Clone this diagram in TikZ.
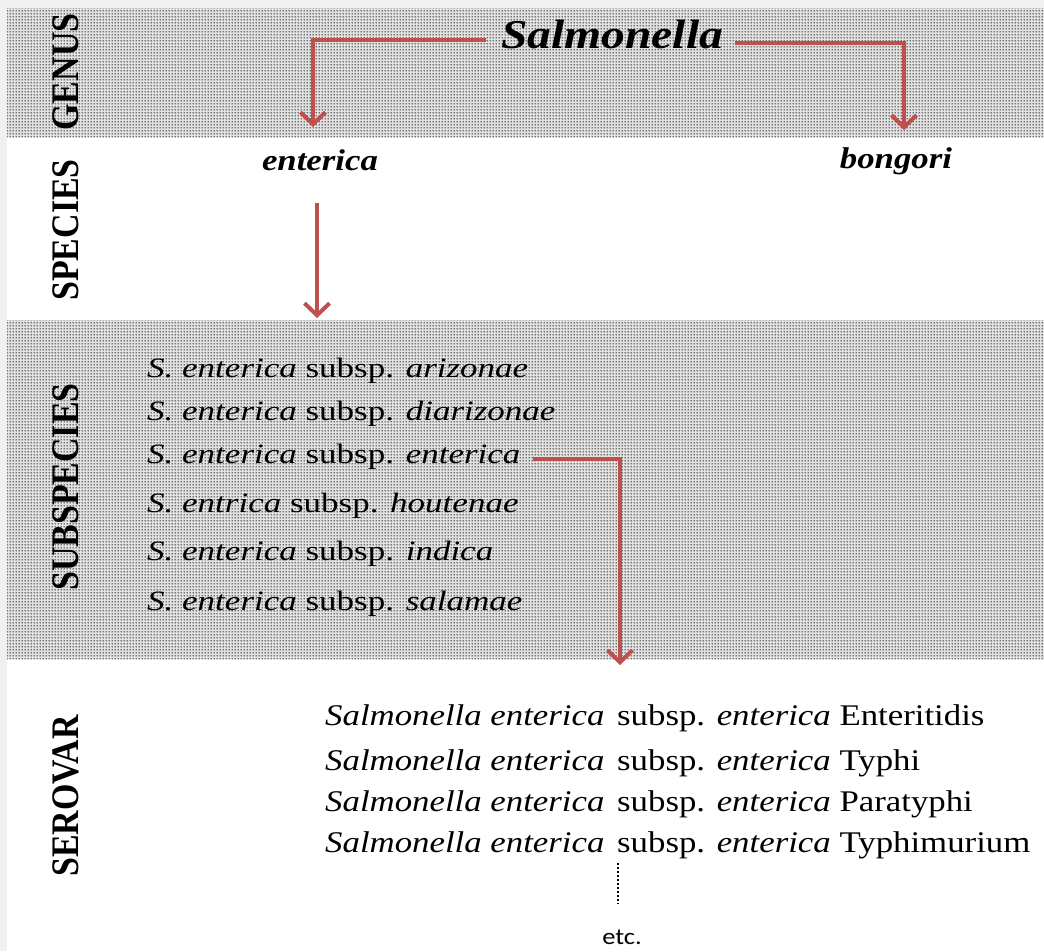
\documentclass[tikz,border=0pt]{standalone}
\usepackage{fontspec}
\setmainfont{Liberation Serif}
\newfontfamily\fmain{Liberation Serif}[FakeStretch=1.16]
\newfontfamily\fsub{Liberation Serif}[FakeStretch=1.25]
\newfontfamily\flab{Liberation Serif}[FakeStretch=0.87]
\newfontfamily\fetc{Carlito}[FakeStretch=1.15]
\usetikzlibrary{arrows.meta,patterns.meta}
\definecolor{arrred}{HTML}{C0504D}
\definecolor{edgegray}{HTML}{F0F0F0}
\definecolor{bandbase}{HTML}{E2E2E2}
\tikzdeclarepattern{name=bandots, type=uncolored,
  bounding box={(0pt,0pt) and (3pt,3pt)}, tile size={(3pt,3pt)},
  code={\pgfpathcircle{\pgfpoint{1.5pt}{1.5pt}}{0.9pt}\pgfusepath{fill}}}
\tikzset{
  bandfill/.style={fill=bandbase},
  band/.style={pattern=bandots, pattern color=black},
  lab/.style={rotate=90, inner sep=0, font=\flab\bfseries\fontsize{39}{44}\selectfont},
  spec/.style={inner sep=0, anchor=base, font=\fmain\bfseries\itshape\fontsize{30}{36}\selectfont},
  subrow/.style={inner sep=0, anchor=base west, font=\fsub\fontsize{28}{34}\selectfont},
  serrow/.style={inner sep=0, anchor=base west, font=\fmain\fontsize{30}{36}\selectfont},
  arr/.style={draw=arrred, line width=4pt, line join=miter,
    -{Straight Barb[length=12pt,width=25pt]}},
  dotline/.style={draw=black, line width=2.5pt, dash pattern=on 2pt off 2pt}
}
\begin{document}
\begin{tikzpicture}[x=1pt,y=-1pt]
\useasboundingbox (0,0) rectangle (1044,951);
\fill[edgegray] (0,0) rectangle (1044,951);
\fill[white] (7,8) rectangle (1044,951);
\fill[bandfill] (7,8) rectangle (1044,137);
\fill[band] (7,8) rectangle (1044,137);
\fill[bandfill] (7,320) rectangle (1044,659);
\fill[band] (7,320) rectangle (1044,659);

% rank labels
\node[lab] (lgenus) at (66,72) {GENUS};
\node[lab] (lspecies) at (66,230) {SPECIES};
\node[lab] (lsubspecies) at (66,487) {SUBSPECIES};
\node[lab] (lserovar) at (66,796) {SEROVAR};

% genus and species
\node[inner sep=0, anchor=base, font=\fmain\bfseries\itshape\fontsize{41}{48}\selectfont] (sal) at (612,48) {Salmonella};
\node[spec] (ent) at (320,170) {enterica};
\node[spec] (bon) at (896,168) {bongori};

% subspecies
\node[subrow] (s1) at (147,377) {\textit{S. enterica} subsp. \textit{arizonae}};
\node[subrow] (s2) at (147,420) {\textit{S. enterica} subsp. \textit{diarizonae}};
\node[subrow] (s3) at (147,463) {\textit{S. enterica} subsp. \textit{enterica}};
\node[subrow] (s4) at (147,512) {\textit{S. entrica} subsp. \textit{houtenae}};
\node[subrow] (s5) at (147,560) {\textit{S. enterica} subsp. \textit{indica}};
\node[subrow] (s6) at (147,610) {\textit{S. enterica} subsp. \textit{salamae}};

% serovars
\node[serrow] (v1) at (325,725) {\textit{Salmonella enterica}\hspace{4pt} subsp. \textit{enterica} Enteritidis};
\node[serrow] (v2) at (325,770) {\textit{Salmonella enterica}\hspace{4pt} subsp. \textit{enterica} Typhi};
\node[serrow] (v3) at (325,811) {\textit{Salmonella enterica}\hspace{4pt} subsp. \textit{enterica} Paratyphi};
\node[serrow] (v4) at (325,852) {\textit{Salmonella enterica}\hspace{4pt} subsp. \textit{enterica} Typhimurium};
\node[inner sep=0, anchor=base, font=\fetc\fontsize{23}{28}\selectfont] (etc) at (622,944) {etc.};

\coordinate (subtop) at (317,318);
\coordinate (sertop) at (620,665);

% connectors
\draw[arr, shorten >=22pt] ([xshift=-15pt,yshift=8pt]sal.base west) -| ([xshift=-7pt]ent.north);
\draw[arr, shorten >=17pt] ([xshift=12pt,yshift=5pt]sal.base east) -| ([xshift=8pt]bon.north);
\draw[arr, shorten <=32pt] ([xshift=-3pt]ent.south) -- (subtop);
\draw[arr] ([xshift=12pt,yshift=4pt]s3.base east) -| (sertop);
\draw[dotline, shorten <=4pt, shorten >=26pt] ([xshift=-4pt]etc.north |- v4.south) -- ([xshift=-4pt]etc.north);
\end{tikzpicture}
\end{document}
